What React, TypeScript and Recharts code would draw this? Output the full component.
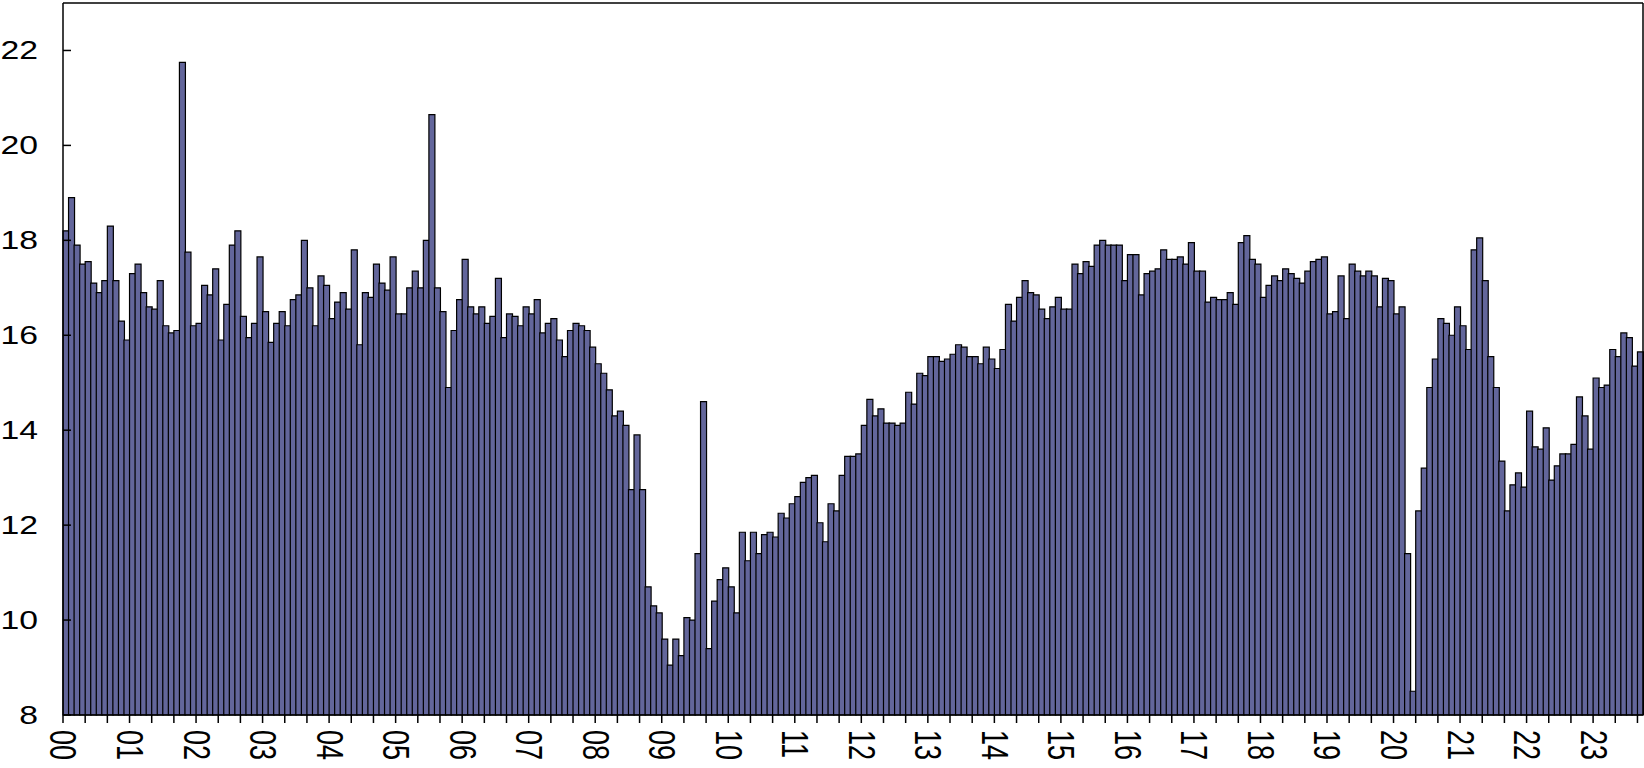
import React from 'react';
import { BarChart, Bar, XAxis, YAxis, ReferenceLine } from 'recharts';

// 5-minute values, 00:00 - 05:55
const night = [
  18.2, 18.9, 17.9, 17.5, 17.55, 17.1, 16.9, 17.15, 18.3, 17.15, 16.3, 15.9,
  17.3, 17.5, 16.9, 16.6, 16.55, 17.15, 16.2, 16.05, 16.1, 21.75, 17.75, 16.2,
  16.25, 17.05, 16.85, 17.4, 15.9, 16.65, 17.9, 18.2, 16.4, 15.95, 16.25, 17.65,
  16.5, 15.85, 16.25, 16.5, 16.2, 16.75, 16.85, 18.0, 17.0, 16.2, 17.25, 17.05,
  16.35, 16.7, 16.9, 16.55, 17.8, 15.8, 16.9, 16.8, 17.5, 17.1, 16.95, 17.65,
  16.45, 16.45, 17.0, 17.35, 17.0, 18.0, 20.65, 17.0, 16.5, 14.9, 16.1, 16.75,
];

// 06:00 - 11:55
const morning = [
  17.6, 16.6, 16.45, 16.6, 16.25, 16.4, 17.2, 15.95, 16.45, 16.4, 16.2, 16.6,
  16.45, 16.75, 16.05, 16.25, 16.35, 15.9, 15.55, 16.1, 16.25, 16.2, 16.1, 15.75,
  15.4, 15.2, 14.85, 14.3, 14.4, 14.1, 12.75, 13.9, 12.75, 10.7, 10.3, 10.15,
  9.6, 9.05, 9.6, 9.25, 10.05, 10.0, 11.4, 14.6, 9.4, 10.4, 10.85, 11.1,
  10.7, 10.15, 11.85, 11.25, 11.85, 11.4, 11.8, 11.85, 11.75, 12.25, 12.15, 12.45,
  12.6, 12.9, 13.0, 13.05, 12.05, 11.65, 12.45, 12.3, 13.05, 13.45, 13.45, 13.5,
];

// 12:00 - 17:55
const afternoon = [
  14.1, 14.65, 14.3, 14.45, 14.15, 14.15, 14.1, 14.15, 14.8, 14.55, 15.2, 15.15,
  15.55, 15.55, 15.45, 15.5, 15.6, 15.8, 15.75, 15.55, 15.55, 15.4, 15.75, 15.5,
  15.3, 15.7, 16.65, 16.3, 16.8, 17.15, 16.9, 16.85, 16.55, 16.35, 16.6, 16.8,
  16.55, 16.55, 17.5, 17.3, 17.55, 17.45, 17.9, 18.0, 17.9, 17.9, 17.9, 17.15,
  17.7, 17.7, 16.85, 17.3, 17.35, 17.4, 17.8, 17.6, 17.6, 17.65, 17.5, 17.95,
  17.35, 17.35, 16.7, 16.8, 16.75, 16.75, 16.9, 16.65, 17.95, 18.1, 17.6, 17.5,
];

// 18:00 - 23:40
const evening = [
  16.8, 17.05, 17.25, 17.15, 17.4, 17.3, 17.2, 17.1, 17.35, 17.55, 17.6, 17.65,
  16.45, 16.5, 17.25, 16.35, 17.5, 17.35, 17.25, 17.35, 17.25, 16.6, 17.2, 17.15,
  16.45, 16.6, 11.4, 8.5, 12.3, 13.2, 14.9, 15.5, 16.35, 16.25, 16.0, 16.6,
  16.2, 15.7, 17.8, 18.05, 17.15, 15.55, 14.9, 13.35, 12.3, 12.85, 13.1, 12.8,
  14.4, 13.65, 13.6, 14.05, 12.95, 13.25, 13.5, 13.5, 13.7, 14.7, 14.3, 13.6,
  15.1, 14.9, 14.95, 15.7, 15.55, 16.05, 15.95, 15.35, 15.65,
];

const hourLabels = [
  '00', '01', '02', '03', '04', '05', '06', '07', '08', '09', '10', '11',
  '12', '13', '14', '15', '16', '17', '18', '19', '20', '21', '22', '23',
];
const yTicks = [8, 10, 12, 14, 16, 18, 20, 22];
const Y_MIN = 8;
const Y_MAX = 23;

const STEP = 5; // minutes per bar
const values = [...night, ...morning, ...afternoon, ...evening];
const data = values.map((v, i) => ({ minute: i * STEP + STEP / 2, value: v }));
const xMax = values.length * STEP;
const xTicks = Array.from({ length: Math.floor((xMax - 1) / 20) + 1 }, (_, i) => i * 20);

const W = 1644;
const H = 768;
const LEFT = 63;
const TOP = 3;
const BOTTOM_H = 53;
const PLOT_BOTTOM = H - BOTTOM_H;
const FONT = '"Liberation Sans", Arial, sans-serif';

const YTick = ({ y, payload }: any) => (
  <g>
    <line x1={LEFT} x2={LEFT + 8} y1={y} y2={y} stroke="#000" strokeWidth={1.5} />
    <text
      transform={`translate(${LEFT - 25},${y}) scale(1.35,1)`}
      textAnchor="end"
      dominantBaseline="central"
      fontSize={25}
      fontFamily={FONT}
      fill="#000"
    >
      {payload.value}
    </text>
  </g>
);

const XTick = ({ x, payload }: any) => {
  const m = payload.value;
  return (
    <g>
      <line x1={x} x2={x} y1={PLOT_BOTTOM} y2={PLOT_BOTTOM + 8} stroke="#000" strokeWidth={1.5} />
      {m % 60 === 0 && (
        <text
          transform={`translate(${x},${PLOT_BOTTOM + 15}) scale(1.35,1) rotate(90)`}
          textAnchor="start"
          dominantBaseline="central"
          fontSize={27}
          fontFamily={FONT}
          fill="#000"
        >
          {hourLabels[m / 60]}
        </text>
      )}
    </g>
  );
};

export default function App() {
  return (
    <div style={{ position: 'absolute', left: 0, top: 0, width: W, height: H, background: '#fff' }}>
      <BarChart
        width={W}
        height={H}
        data={data}
        margin={{ top: TOP, right: 1, bottom: 0, left: 0 }}
        barCategoryGap={0}
        barGap={0}
      >
        <XAxis
          dataKey="minute"
          type="number"
          domain={[0, xMax]}
          ticks={xTicks}
          interval={0}
          height={BOTTOM_H}
          tick={<XTick />}
          tickLine={false}
          axisLine={{ stroke: '#000', strokeWidth: 1.5 }}
        />
        <YAxis
          type="number"
          domain={[Y_MIN, Y_MAX]}
          ticks={yTicks}
          width={LEFT}
          tick={<YTick />}
          tickLine={false}
          axisLine={{ stroke: '#000', strokeWidth: 1.5 }}
        />
        <Bar dataKey="value" fill="#63669b" stroke="#000" strokeWidth={1.2} isAnimationActive={false} />
        <ReferenceLine y={Y_MAX} stroke="#000" strokeWidth={1.5} />
        <ReferenceLine x={xMax} stroke="#000" strokeWidth={1.5} />
      </BarChart>
    </div>
  );
}
